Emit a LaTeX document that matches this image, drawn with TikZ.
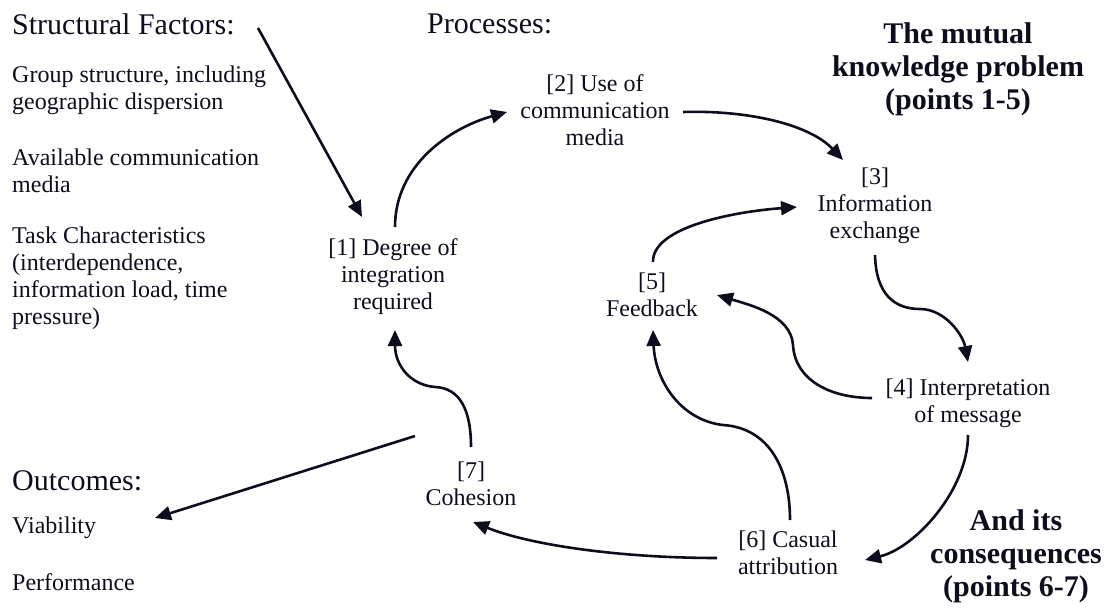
\documentclass[tikz,border=0pt]{standalone}
\usepackage{fontspec}
\setmainfont{Liberation Serif}
\usetikzlibrary{arrows.meta,calc}
\definecolor{ink}{RGB}{12,14,30}
\begin{document}
\begin{tikzpicture}[x=1pt,y=-1pt,
  body/.style={font=\fontsize{24}{27}\selectfont, text=ink, inner sep=0pt},
  proc/.style={body, align=center},
  lst/.style={body, align=left, anchor=west},
  head/.style={font=\fontsize{30}{33}\selectfont, text=ink, inner sep=0pt, anchor=base west},
  note/.style={font=\fontsize{30}{33}\selectfont\bfseries, text=ink, inner sep=0pt, align=center},
  conn/.style={draw=ink, line width=2.6pt, -{Triangle[length=16pt,width=14pt]}}]
\useasboundingbox (0,0) rectangle (1107,609);

% headings
\node[head] (sf) at (12,35) {Structural Factors:};
\node[head] (pr) at (427,34) {Processes:};
\node[head] (oc) at (12,490) {Outcomes:};

% left lists
\node[lst] (l1) at (12,90) {Group structure, including\\geographic dispersion};
\node[lst] (l2) at (12,171) {Available communication\\media};
\node[lst] (l3) at (12,278) {Task Characteristics\\(interdependence,\\information load, time\\pressure)};
\node[body, anchor=base west] (vi) at (12,533) {Viability};
\node[body, anchor=base west] (pe) at (12,590) {Performance};

% process nodes
\node[proc] (n1) at (393,277) {[1] Degree of\\integration\\required};
\node[proc] (n2) at (595,110) {[2] Use of\\communication\\media};
\node[proc] (n3) at (875,206) {[3]\\Information\\exchange};
\node[proc] (n4) at (968,403) {[4] Interpretation\\of message};
\node[proc] (n5) at (652,295) {[5]\\Feedback};
\node[proc] (n6) at (788,553) {[6] Casual\\attribution};
\node[proc] (n7) at (471,484) {[7]\\Cohesion};

% notes
\node[note] (k1) at (958,69) {The mutual\\knowledge problem\\(points 1-5)};
\node[note] (k2) at (1016,556) {And its\\consequences\\(points 6-7)};

% free ends
\coordinate (sfa) at (258,28);
\coordinate (oca) at (415,436);

% connectors
\draw[conn] (sfa) -- ($(n1)+(-31,-60)$);
\draw[conn] ($(n1)+(2,-50)$) .. controls (395,165) and (450,128) .. ($(n2)+(-88,2)$);
\draw[conn] ($(n2)+(88,2)$) .. controls (750,110) and (810,125) .. ($(n3)+(-32,-46)$);
\draw[conn] ($(n5)+(1,-33)$) .. controls (652,228) and (730,212) .. ($(n3)+(-78,1)$);
\draw[conn] ($(n3)+(0,49)$) .. controls (876,295) and (895,309) .. (920,309) .. controls (945,309) and (963,335) .. ($(n4)+(0,-41)$);
\draw[conn] ($(n4)+(-96,-5)$) .. controls (830,398) and (795,380) .. (793,345) .. controls (791,315) and (750,305) .. ($(n5)+(65,0)$);
\draw[conn] ($(n4)+(0,32)$) .. controls (968,490) and (915,548) .. ($(n6)+(77,7)$);
\draw[conn] ($(n6)+(2,-33)$) .. controls (790,470) and (770,428) .. (723,425) .. controls (680,420) and (655,380) .. ($(n5)+(1,35)$);
\draw[conn] ($(n6)+(-71,5)$) .. controls (620,558) and (530,545) .. ($(n7)+(2,38)$);
\draw[conn] ($(n7)+(0,-37)$) .. controls (471,410) and (460,388) .. (435,387) .. controls (410,385) and (395,365) .. ($(n1)+(2,53)$);
\draw[conn] (oca) -- ($(vi.base west)+(143,-15)$);
\end{tikzpicture}
\end{document}
